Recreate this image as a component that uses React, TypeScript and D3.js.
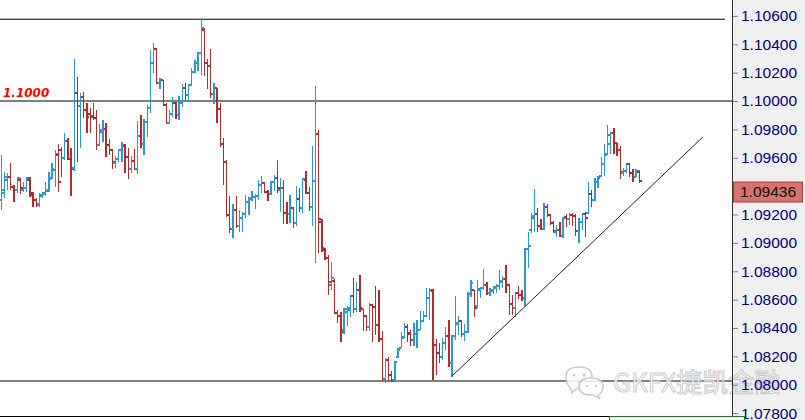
import { useRef, useEffect } from 'react';
import * as d3 from 'd3';

// EURUSD bars (bar index 0 = leftmost)
const OPEN = [
  1.09302, 1.09373, 1.09443, 1.09464, 1.09394, 1.09373, 1.09443, 1.09373, 1.09387, 1.09443,
  1.09337, 1.09302, 1.09274, 1.09330, 1.09344, 1.09373, 1.09457, 1.09514, 1.09619, 1.09655,
  1.09598, 1.09718, 1.09591, 1.09528, 1.10056, 1.09965, 1.10028, 1.09937, 1.09908, 1.09894,
  1.09880, 1.09690, 1.09781, 1.09803, 1.09690, 1.09655, 1.09563, 1.09591, 1.09655, 1.09683,
  1.09605, 1.09521, 1.09577, 1.09521, 1.09753, 1.09697, 1.09852, 1.09951, 1.10268, 1.10367,
  1.10127, 1.10148, 1.09972, 1.09845, 1.09908, 1.09986, 1.09901, 1.09986, 1.10092, 1.10042,
  1.10113, 1.10204, 1.10268, 1.10338, 1.10501, 1.10268, 1.10247, 1.10049, 1.10092, 1.09944,
  1.09697, 1.09570, 1.09196, 1.09098, 1.09232, 1.09119, 1.09175, 1.09203, 1.09288, 1.09309,
  1.09323, 1.09330, 1.09408, 1.09422, 1.09358, 1.09344, 1.09429, 1.09457, 1.09373, 1.09387,
  1.09210, 1.09203, 1.09246, 1.09140, 1.09309, 1.09246, 1.09443, 1.09351, 1.09253, 1.09436,
  1.09767, 1.09147, 1.08950, 1.08893, 1.08703, 1.08731, 1.08505, 1.08484, 1.08386, 1.08512,
  1.08527, 1.08625, 1.08534, 1.08668, 1.08534, 1.08484, 1.08407, 1.08562, 1.08548, 1.08421,
  1.08322, 1.08040, 1.08174, 1.08068, 1.08033, 1.08195, 1.08259, 1.08336, 1.08407, 1.08364,
  1.08315, 1.08357, 1.08386, 1.08449, 1.08484, 1.08611, 1.08661, 1.08280, 1.08223, 1.08195,
  1.08294, 1.08343, 1.08153, 1.08343, 1.08428, 1.08449, 1.08357, 1.08371, 1.08639, 1.08668,
  1.08555, 1.08668, 1.08682, 1.08703, 1.08647, 1.08661, 1.08682, 1.08696, 1.08724, 1.08745,
  1.08703, 1.08569, 1.08541, 1.08647, 1.08632, 1.08611, 1.08957, 1.09091, 1.09175, 1.09203,
  1.09119, 1.09098, 1.09253, 1.09196, 1.09140, 1.09076, 1.09091, 1.09048, 1.09182, 1.09168,
  1.09196, 1.09189, 1.09083, 1.09147, 1.09203, 1.09210, 1.09344, 1.09302, 1.09429, 1.09471,
  1.09556, 1.09626, 1.09697, 1.09774, 1.09704, 1.09655, 1.09492, 1.09506, 1.09556, 1.09492,
  1.09464, 1.09499,
];

const HIGH = [
  1.09619, 1.09499, 1.09492, 1.09563, 1.09408, 1.09464, 1.09457, 1.09429, 1.09464, 1.09464,
  1.09358, 1.09316, 1.09351, 1.09358, 1.09429, 1.09499, 1.09563, 1.09655, 1.09697, 1.09676,
  1.09774, 1.09739, 1.09669, 1.10296, 1.10169, 1.10056, 1.10063, 1.09986, 1.09951, 1.09986,
  1.09937, 1.09838, 1.09866, 1.09845, 1.09732, 1.09662, 1.09612, 1.09662, 1.09711, 1.09697,
  1.09669, 1.09612, 1.09662, 1.09859, 1.09901, 1.09873, 1.09972, 1.10360, 1.10409, 1.10367,
  1.10162, 1.10148, 1.09986, 1.09937, 1.10028, 1.09993, 1.10035, 1.10120, 1.10127, 1.10120,
  1.10233, 1.10289, 1.10345, 1.10585, 1.10515, 1.10296, 1.10367, 1.10127, 1.10092, 1.09986,
  1.09739, 1.09584, 1.09330, 1.09274, 1.09330, 1.09232, 1.09217, 1.09337, 1.09323, 1.09365,
  1.09344, 1.09443, 1.09471, 1.09429, 1.09373, 1.09436, 1.09478, 1.09584, 1.09457, 1.09443,
  1.09288, 1.09337, 1.09253, 1.09401, 1.09387, 1.09457, 1.09506, 1.09394, 1.09683, 1.10106,
  1.09796, 1.09168, 1.08964, 1.08914, 1.08865, 1.08745, 1.08527, 1.08512, 1.08541, 1.08555,
  1.08632, 1.08752, 1.08724, 1.08773, 1.08534, 1.08491, 1.08576, 1.08562, 1.08696, 1.08668,
  1.08379, 1.08188, 1.08195, 1.08097, 1.08167, 1.08259, 1.08371, 1.08435, 1.08428, 1.08386,
  1.08435, 1.08456, 1.08519, 1.08519, 1.08682, 1.08682, 1.08675, 1.08322, 1.08294, 1.08329,
  1.08407, 1.08456, 1.08350, 1.08625, 1.08484, 1.08456, 1.08428, 1.08654, 1.08738, 1.08668,
  1.08738, 1.08689, 1.08816, 1.08724, 1.08682, 1.08696, 1.08710, 1.08809, 1.08766, 1.08844,
  1.08710, 1.08632, 1.08654, 1.08696, 1.08668, 1.08964, 1.09076, 1.09210, 1.09380, 1.09246,
  1.09168, 1.09281, 1.09274, 1.09203, 1.09154, 1.09126, 1.09147, 1.09182, 1.09203, 1.09210,
  1.09210, 1.09203, 1.09175, 1.09210, 1.09217, 1.09429, 1.09373, 1.09457, 1.09471, 1.09605,
  1.09697, 1.09831, 1.09781, 1.09810, 1.09704, 1.09683, 1.09528, 1.09563, 1.09556, 1.09521,
  1.09521, 1.09514,
];

const LOW = [
  1.09232, 1.09316, 1.09373, 1.09373, 1.09288, 1.09351, 1.09344, 1.09358, 1.09358, 1.09323,
  1.09253, 1.09253, 1.09253, 1.09316, 1.09330, 1.09358, 1.09450, 1.09394, 1.09358, 1.09464,
  1.09584, 1.09584, 1.09330, 1.09506, 1.09570, 1.09669, 1.09880, 1.09774, 1.09774, 1.09866,
  1.09655, 1.09683, 1.09711, 1.09605, 1.09619, 1.09521, 1.09528, 1.09570, 1.09570, 1.09492,
  1.09450, 1.09492, 1.09514, 1.09485, 1.09669, 1.09619, 1.09746, 1.09915, 1.10197, 1.10120,
  1.10085, 1.09965, 1.09838, 1.09838, 1.09887, 1.09873, 1.09866, 1.09958, 1.10007, 1.10000,
  1.10106, 1.10197, 1.10212, 1.10183, 1.10176, 1.10085, 1.10021, 1.09979, 1.09845, 1.09676,
  1.09408, 1.09182, 1.09069, 1.09034, 1.09105, 1.09076, 1.09076, 1.09175, 1.09196, 1.09295,
  1.09239, 1.09302, 1.09351, 1.09351, 1.09295, 1.09337, 1.09365, 1.09351, 1.09217, 1.09133,
  1.09133, 1.09140, 1.09105, 1.09119, 1.09217, 1.09210, 1.09344, 1.09224, 1.09119, 1.08858,
  1.08928, 1.08935, 1.08879, 1.08632, 1.08668, 1.08498, 1.08435, 1.08301, 1.08357, 1.08414,
  1.08477, 1.08505, 1.08512, 1.08512, 1.08379, 1.08379, 1.08379, 1.08301, 1.08350, 1.08301,
  1.08026, 1.08012, 1.08026, 1.08019, 1.08026, 1.08188, 1.08259, 1.08329, 1.08301, 1.08273,
  1.08273, 1.08259, 1.08386, 1.08442, 1.08484, 1.08456, 1.08033, 1.08068, 1.08153, 1.08174,
  1.08245, 1.08125, 1.08054, 1.08315, 1.08350, 1.08336, 1.08308, 1.08364, 1.08618, 1.08477,
  1.08541, 1.08611, 1.08668, 1.08632, 1.08625, 1.08639, 1.08647, 1.08668, 1.08682, 1.08647,
  1.08491, 1.08491, 1.08477, 1.08604, 1.08590, 1.08555, 1.08823, 1.09069, 1.09076, 1.09076,
  1.09091, 1.09091, 1.09182, 1.09126, 1.09069, 1.09041, 1.09041, 1.09034, 1.09112, 1.09126,
  1.09119, 1.09048, 1.08999, 1.09091, 1.09041, 1.09203, 1.09253, 1.09295, 1.09387, 1.09464,
  1.09471, 1.09619, 1.09626, 1.09626, 1.09612, 1.09450, 1.09471, 1.09492, 1.09464, 1.09429,
  1.09464, 1.09422,
];

const CLOSE = [
  1.09351, 1.09464, 1.09464, 1.09394, 1.09373, 1.09457, 1.09387, 1.09387, 1.09457, 1.09351,
  1.09302, 1.09267, 1.09337, 1.09351, 1.09365, 1.09450, 1.09521, 1.09626, 1.09429, 1.09598,
  1.09718, 1.09591, 1.09521, 1.10056, 1.09965, 1.10028, 1.09937, 1.09887, 1.09887, 1.09880,
  1.09690, 1.09796, 1.09803, 1.09690, 1.09655, 1.09570, 1.09591, 1.09655, 1.09690, 1.09605,
  1.09521, 1.09577, 1.09521, 1.09753, 1.09697, 1.09852, 1.09951, 1.10268, 1.10367, 1.10127,
  1.10148, 1.09972, 1.09845, 1.09908, 1.09986, 1.09901, 1.09986, 1.10092, 1.10042, 1.10113,
  1.10204, 1.10268, 1.10338, 1.10515, 1.10268, 1.10247, 1.10049, 1.10092, 1.09944, 1.09697,
  1.09570, 1.09196, 1.09098, 1.09232, 1.09119, 1.09175, 1.09203, 1.09288, 1.09316, 1.09323,
  1.09330, 1.09408, 1.09422, 1.09358, 1.09344, 1.09429, 1.09457, 1.09387, 1.09387, 1.09210,
  1.09203, 1.09246, 1.09140, 1.09309, 1.09246, 1.09450, 1.09351, 1.09253, 1.09436, 1.09767,
  1.09168, 1.08964, 1.08893, 1.08724, 1.08752, 1.08505, 1.08484, 1.08371, 1.08534, 1.08541,
  1.08625, 1.08534, 1.08668, 1.08541, 1.08484, 1.08407, 1.08562, 1.08548, 1.08421, 1.08322,
  1.08040, 1.08174, 1.08068, 1.08026, 1.08160, 1.08245, 1.08329, 1.08407, 1.08357, 1.08315,
  1.08357, 1.08386, 1.08449, 1.08484, 1.08611, 1.08668, 1.08280, 1.08223, 1.08195, 1.08294,
  1.08343, 1.08153, 1.08343, 1.08435, 1.08449, 1.08357, 1.08371, 1.08639, 1.08717, 1.08541,
  1.08675, 1.08682, 1.08703, 1.08647, 1.08668, 1.08689, 1.08696, 1.08731, 1.08745, 1.08703,
  1.08569, 1.08541, 1.08647, 1.08632, 1.08611, 1.08957, 1.08978, 1.09189, 1.09203, 1.09119,
  1.09098, 1.09253, 1.09196, 1.09140, 1.09083, 1.09091, 1.09048, 1.09175, 1.09168, 1.09196,
  1.09189, 1.09083, 1.09147, 1.09203, 1.09175, 1.09344, 1.09302, 1.09429, 1.09457, 1.09556,
  1.09619, 1.09760, 1.09774, 1.09704, 1.09655, 1.09499, 1.09506, 1.09556, 1.09492, 1.09464,
  1.09506, 1.09436,
];

// axis range and the labels visible on it (1.09400 sits under the price tag)
const PRICE_MIN = 1.078;
const PRICE_MAX = 1.106;
const PRICE_TICKS = [
  1.078, 1.080, 1.082, 1.084, 1.086, 1.088, 1.090, 1.092,
  1.096, 1.098, 1.100, 1.102, 1.104, 1.106,
];

// horizontal levels drawn on the chart
const TOP_LEVEL = 1.10576;
const ROUND_LEVEL = 1.1;
const SUPPORT_LEVEL = 1.08026;
const ROUND_LABEL = '1.1000';

// trend line anchors: bar index, price (second point is in the future)
const TREND_BARS = [142, 221];
const TREND_PRICES = [1.08061, 1.09746];

const LAST_PRICE = 1.09436;
const WATERMARK = 'GKFX捷凯金融';

const W = 805;
const H = 420;
const PLOT_RIGHT = 732;
const TICK = 2.4;
const BLUE = '#2b98d4';
const RED = '#b42a2d';

export default function App() {
  const svgRef = useRef<SVGSVGElement>(null);

  useEffect(() => {
    const svg = svgRef.current;
    if (!svg) return;
    const root = d3.select(svg);
    root.selectAll('*').remove();

    const x = d3.scaleLinear().domain([0, CLOSE.length - 1]).range([1.3, 639.3]);
    const y = d3.scaleLinear().domain([PRICE_MIN, PRICE_MAX]).range([413.1, 15.9]);

    root.append('rect').attr('width', W).attr('height', H).attr('fill', '#ffffff');
    root
      .append('rect')
      .attr('x', PLOT_RIGHT + 1)
      .attr('width', W - PLOT_RIGHT - 1)
      .attr('height', H)
      .attr('fill', '#f0f0f0');

    // Levels
    root.append('line')
      .attr('x1', 0).attr('x2', 725)
      .attr('y1', y(TOP_LEVEL)).attr('y2', y(TOP_LEVEL))
      .attr('stroke', '#000').attr('stroke-width', 1.1);
    root.append('line')
      .attr('x1', 0).attr('x2', PLOT_RIGHT)
      .attr('y1', y(ROUND_LEVEL)).attr('y2', y(ROUND_LEVEL))
      .attr('stroke', '#000').attr('stroke-width', 1.1);
    root.append('line')
      .attr('x1', 0).attr('x2', PLOT_RIGHT)
      .attr('y1', y(SUPPORT_LEVEL)).attr('y2', y(SUPPORT_LEVEL))
      .attr('stroke', '#808080').attr('stroke-width', 2);

    root.append('text')
      .attr('x', 3)
      .attr('y', y(ROUND_LEVEL) - 4)
      .attr('fill', '#ff0000')
      .attr('font-family', 'DejaVu Sans, sans-serif')
      .attr('font-weight', 'bold')
      .attr('font-style', 'italic')
      .attr('font-size', '12px')
      .text(ROUND_LABEL);

    // OHLC bars
    const bars = root.append('g')
      .attr('shape-rendering', 'crispEdges')
      .attr('fill', 'none')
      .attr('stroke-width', 1.3);
    CLOSE.forEach((c, i) => {
      const o = OPEN[i];
      const cx = x(i);
      const p = d3.path();
      p.moveTo(cx, y(HIGH[i]));
      p.lineTo(cx, y(LOW[i]));
      p.moveTo(cx - TICK, y(o));
      p.lineTo(cx, y(o));
      p.moveTo(cx, y(c));
      p.lineTo(cx + TICK, y(c));
      bars.append('path')
        .attr('d', p.toString())
        .attr('stroke', c >= o ? BLUE : RED);
    });

    // Trend line
    root.append('line')
      .attr('x1', x(TREND_BARS[0])).attr('y1', y(TREND_PRICES[0]))
      .attr('x2', x(TREND_BARS[1])).attr('y2', y(TREND_PRICES[1]))
      .attr('stroke', '#222').attr('stroke-width', 1);

    // Watermark
    const wm = root.append('g').attr('opacity', 0.85);
    wm.append('path')
      .attr('d', 'M571,389 Q566,384 566,377 Q566,367 579,367 Q592,367 592,377 Q592,387 579,388 Q575,389 572,393 Z')
      .attr('fill', '#fff').attr('stroke', '#c4c4c4').attr('stroke-width', 1.6);
    wm.append('path')
      .attr('d', 'M598,396 Q603,392 603,386 Q603,378 591,378 Q579,378 579,386 Q579,395 591,395 Q595,395 600,399 Z')
      .attr('fill', '#fff').attr('stroke', '#c4c4c4').attr('stroke-width', 1.6);
    [[574, 375, 1.6], [584, 375, 1.6], [587, 386, 1.3], [596, 386, 1.3]].forEach(([cx, cy, r]) => {
      wm.append('circle').attr('cx', cx).attr('cy', cy).attr('r', r).attr('fill', '#c4c4c4');
    });
    wm.append('text')
      .attr('x', 613)
      .attr('y', 392)
      .attr('font-family', 'Noto Sans CJK SC, Noto Sans, sans-serif')
      .attr('font-size', '26px')
      .attr('fill', '#ffffff')
      .attr('stroke', '#c4c4c4')
      .attr('stroke-width', 1)
      .text(WATERMARK);

    // Price axis
    root.append('line')
      .attr('x1', PLOT_RIGHT + 0.5).attr('x2', PLOT_RIGHT + 0.5)
      .attr('y1', 0).attr('y2', H)
      .attr('stroke', '#333');
    const axis = d3.axisRight(y)
      .tickValues(PRICE_TICKS)
      .tickFormat(d3.format('.5f'))
      .tickSize(5)
      .tickPadding(3);
    const ag = root.append('g')
      .attr('transform', `translate(${PLOT_RIGHT + 1},0)`)
      .call(axis);
    ag.select('.domain').remove();
    ag.selectAll('line').attr('stroke', '#808080');
    ag.selectAll('text')
      .attr('fill', '#000080')
      .attr('font-family', 'Liberation Sans, Arial, sans-serif')
      .attr('font-size', '15.5px');

    // Current price tag
    const tagTop = y(LAST_PRICE) + 1;
    root.append('rect')
      .attr('x', PLOT_RIGHT + 1.5).attr('y', tagTop)
      .attr('width', 69).attr('height', 20)
      .attr('fill', '#d8726d').attr('stroke', '#b03a3a');
    root.append('text')
      .attr('x', PLOT_RIGHT + 8)
      .attr('y', tagTop + 10)
      .attr('dy', '0.35em')
      .attr('fill', '#111')
      .attr('font-family', 'Liberation Sans, Arial, sans-serif')
      .attr('font-size', '15.5px')
      .text(d3.format('.5f')(LAST_PRICE));

    // Lower panel border
    root.append('line')
      .attr('x1', 0).attr('x2', 609)
      .attr('y1', 416.5).attr('y2', 416.5)
      .attr('stroke', '#000');
    root.append('rect')
      .attr('x', 609.5).attr('y', 416.5)
      .attr('width', 135).attr('height', 12)
      .attr('fill', '#fff').attr('stroke', '#1a7a1a');
  }, []);

  return (
    <div style={{ position: 'absolute', left: 0, top: 0 }}>
      <svg ref={svgRef} width={W} height={H} style={{ display: 'block' }} />
    </div>
  );
}
